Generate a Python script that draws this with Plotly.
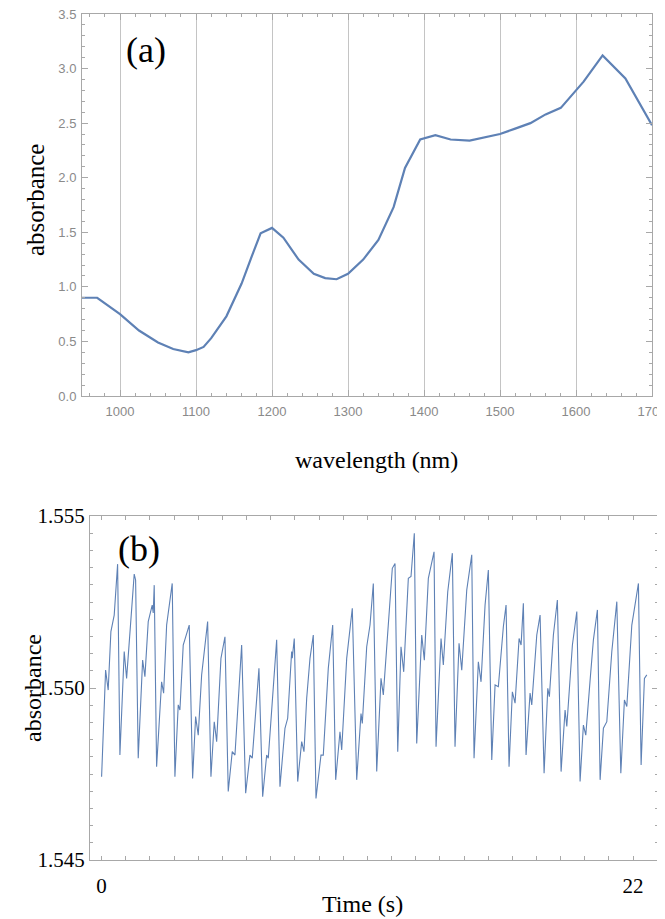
import plotly.graph_objects as go

# ---- panel (a): absorbance spectrum ----
wavelength_nm = [950, 970, 1000, 1025, 1050, 1070, 1090, 1100, 1110, 1120, 1140, 1160, 1175, 1185,
                 1200, 1215, 1235, 1255, 1270, 1285, 1300, 1320, 1340, 1360, 1375, 1395, 1415, 1435,
                 1460, 1480, 1500, 1520, 1540, 1560, 1580, 1600, 1610, 1635, 1665, 1700]
spectrum_abs = [0.90, 0.90, 0.75, 0.60, 0.49, 0.43, 0.40, 0.42, 0.45, 0.53, 0.73, 1.03, 1.31, 1.49,
                1.54, 1.45, 1.25, 1.12, 1.08, 1.07, 1.12, 1.25, 1.43, 1.73, 2.09, 2.35, 2.39, 2.35,
                2.34, 2.37, 2.40, 2.45, 2.50, 2.58, 2.64, 2.80, 2.88, 3.12, 2.91, 2.48]
wl_ticks = [1000, 1100, 1200, 1300, 1400, 1500, 1600, 1700]
abs_ticks_a = [0.0, 0.5, 1.0, 1.5, 2.0, 2.5, 3.0, 3.5]

# ---- panel (b): absorbance vs time ----
time_s = [0.000, 0.166, 0.273, 0.385, 0.522, 0.663, 0.758, 0.936, 1.035, 1.172, 1.242, 1.350, 1.408,
          1.516, 1.698, 1.793, 1.930, 2.095, 2.137, 2.178, 2.277, 2.484, 2.567, 2.692, 2.923, 3.035,
          3.172, 3.242, 3.379, 3.627, 3.768, 3.892, 4.000, 4.141, 4.389, 4.526, 4.663, 4.762, 4.940,
          5.106, 5.242, 5.408, 5.520, 5.797, 5.963, 6.141, 6.236, 6.418, 6.513, 6.667, 6.832, 6.899,
          7.106, 7.246, 7.383, 7.590, 7.702, 7.867, 7.892, 7.975, 8.116, 8.282, 8.377, 8.489, 8.625,
          8.762, 8.874, 9.081, 9.176, 9.383, 9.565, 9.689, 9.867, 9.938, 10.145, 10.253, 10.377,
          10.559, 10.737, 10.791, 10.973, 11.110, 11.247, 11.387, 11.565, 11.661, 11.801, 11.896,
          12.033, 12.145, 12.257, 12.393, 12.505, 12.696, 12.807, 12.944, 13.043, 13.251, 13.358,
          13.524, 13.636, 13.760, 13.843, 14.050, 14.145, 14.327, 14.518, 14.629, 14.795, 14.907,
          15.114, 15.321, 15.416, 15.594, 15.706, 15.872, 16.008, 16.149, 16.286, 16.422, 16.629,
          16.741, 16.865, 17.002, 17.114, 17.280, 17.363, 17.457, 17.569, 17.735, 17.805, 18.012,
          18.149, 18.315, 18.468, 18.534, 18.700, 18.865, 19.019, 19.184, 19.255, 19.487, 19.669,
          19.805, 19.942, 20.041, 20.220, 20.356, 20.522, 20.634, 20.770, 20.911, 21.118, 21.325,
          21.491, 21.640, 21.739, 21.946, 22.220, 22.331, 22.468, 22.567]
signal_abs = [1.54742, 1.55052, 1.54994, 1.55164, 1.55212, 1.55360, 1.54805, 1.55106, 1.55028,
              1.55154, 1.55241, 1.55331, 1.55314, 1.54796, 1.55081, 1.55033, 1.55193, 1.55241,
              1.55218, 1.55299, 1.54771, 1.55018, 1.54985, 1.55183, 1.55304, 1.54742, 1.54951,
              1.54936, 1.55125, 1.55183, 1.54737, 1.54917, 1.54863, 1.55038, 1.55193, 1.54742,
              1.54902, 1.54844, 1.55086, 1.55149, 1.54699, 1.54815, 1.54805, 1.55125, 1.54694,
              1.54805, 1.54796, 1.54989, 1.55057, 1.54684, 1.54805, 1.54796, 1.55009, 1.55140,
              1.54713, 1.54883, 1.54912, 1.55106, 1.55087, 1.55144, 1.54728, 1.54844, 1.54815,
              1.54970, 1.55086, 1.55154, 1.54679, 1.54805, 1.54805, 1.55057, 1.55183, 1.54733,
              1.54873, 1.54820, 1.55086, 1.55154, 1.55232, 1.54733, 1.54926, 1.54897, 1.55120,
              1.55183, 1.55304, 1.54757, 1.55028, 1.54980, 1.55110, 1.55212, 1.55348, 1.55362,
              1.54815, 1.55120, 1.55047, 1.55319, 1.55324, 1.55450, 1.54839, 1.55154, 1.55081,
              1.55319, 1.55358, 1.55396, 1.54829, 1.55144, 1.55067, 1.55280, 1.55392, 1.54829,
              1.55130, 1.55052, 1.55285, 1.55387, 1.54796, 1.55076, 1.55018, 1.55241, 1.55343,
              1.54791, 1.55009, 1.55004, 1.55178, 1.55241, 1.54771, 1.54989, 1.54956, 1.55144,
              1.55125, 1.55246, 1.54805, 1.54985, 1.54951, 1.55154, 1.55212, 1.54752, 1.54999,
              1.54975, 1.55154, 1.55256, 1.54757, 1.54936, 1.54888, 1.55125, 1.55222, 1.54728,
              1.54892, 1.54863, 1.55023, 1.55140, 1.55227, 1.54733, 1.54883, 1.54902, 1.55106,
              1.55251, 1.54752, 1.54965, 1.54946, 1.55183, 1.55304, 1.54776, 1.55028, 1.55038]
time_ticks = list(range(0, 24))
time_ticktext = ["0" if t == 0 else ("22" if t == 22 else "") for t in time_ticks]
abs_ticks_b = [1.545, 1.550, 1.555]

LINE = "#5E81B5"
FRAME = "#a8a8a8"
SERIF = "Liberation Serif, Times New Roman, serif"
SANS = "Liberation Sans, Arial, sans-serif"

fig = go.Figure()
fig.add_trace(go.Scatter(x=wavelength_nm, y=spectrum_abs, mode="lines",
                         line=dict(color=LINE, width=2.2), xaxis="x", yaxis="y", showlegend=False))
fig.add_trace(go.Scatter(x=time_s, y=signal_abs, mode="lines",
                         line=dict(color=LINE, width=1.1), xaxis="x2", yaxis="y2", showlegend=False))

OFF = 8  # page body margin of the browser
W, H = 665 - OFF, 919 - OFF
def px(x):
    return (x - OFF) / W
def py(y):
    return 1 - (y - OFF) / H
def dx(a, b):
    return [px(a), px(b)]
def dy(top, bot):
    return [py(bot), py(top)]

common = dict(showline=True, linecolor=FRAME, linewidth=1, mirror="ticks",
              ticks="inside", tickcolor=FRAME, zeroline=False, automargin=False,
              ticklabeloverflow="allow")

fig.update_layout(
    width=W, height=H, margin=dict(l=0, r=0, t=0, b=0, autoexpand=False),
    paper_bgcolor="white", plot_bgcolor="white",
    xaxis=dict(domain=dx(82, 652), anchor="y", range=[950, 1700], tickvals=wl_ticks,
               showgrid=True, gridcolor="#c4c4c4", gridwidth=1, ticklen=6, ticklabelstandoff=3,
               minor=dict(dtick=20, ticklen=3, ticks="inside", tickcolor=FRAME, showgrid=False),
               tickfont=dict(family=SANS, size=13, color="#8a8a8a"), **common),
    yaxis=dict(domain=dy(14, 396), anchor="x", range=[0, 3.5], tickvals=abs_ticks_a,
               tickformat=".1f", showgrid=False, ticklen=6, ticklabelstandoff=2,
               minor=dict(dtick=0.1, ticklen=3, ticks="inside", tickcolor=FRAME, showgrid=False),
               tickfont=dict(family=SANS, size=13, color="#8a8a8a"), **common),
    xaxis2=dict(domain=dx(90, 658), anchor="y2", range=[-0.48, 23.03], tickvals=time_ticks,
                ticktext=time_ticktext, showgrid=False, ticklen=4, ticklabelstandoff=7,
                tickfont=dict(family=SERIF, size=21, color="black"), **common),
    yaxis2=dict(domain=dy(516, 860), anchor="x2", range=[1.545, 1.555], tickvals=abs_ticks_b,
                tickformat=".3f", showgrid=False, ticklen=6, ticklabelstandoff=0,
                minor=dict(dtick=0.0005, ticklen=3, ticks="inside", tickcolor=FRAME, showgrid=False),
                tickfont=dict(family=SERIF, size=21, color="black"), **common),
)

ann = [
    dict(text="(a)", x=px(146), y=py(50), font=dict(family=SERIF, size=36, color="black")),
    dict(text="absorbance", x=px(35), y=py(200), textangle=-90,
         font=dict(family=SERIF, size=25, color="black")),
    dict(text="wavelength (nm)", x=px(376), y=py(460), font=dict(family=SERIF, size=24, color="black")),
    dict(text="(b)", x=px(139), y=py(549), font=dict(family=SERIF, size=36, color="black")),
    dict(text="absorbance", x=px(33), y=py(688), textangle=-90,
         font=dict(family=SERIF, size=24, color="black")),
    dict(text="Time (s)", x=px(362), y=py(904), font=dict(family=SERIF, size=24, color="black")),
]
for a in ann:
    a.update(xref="paper", yref="paper", showarrow=False, xanchor="center", yanchor="middle")
fig.update_layout(annotations=ann)

fig.write_html("out.html")
